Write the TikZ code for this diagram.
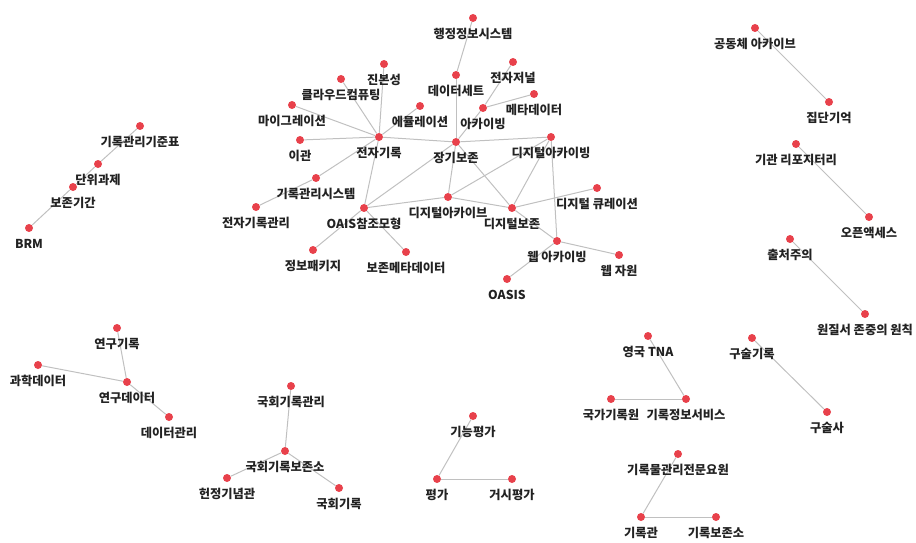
\documentclass[tikz,border=0pt]{standalone}
\usepackage{fontspec}
\setmainfont{Noto Sans CJK KR}
\usetikzlibrary{backgrounds}
\definecolor{dotred}{RGB}{232,65,75}
\definecolor{edgegray}{RGB}{192,192,192}
\definecolor{txt}{RGB}{34,34,34}
\tikzset{
  dot/.style={circle,fill=dotred,inner sep=0pt,minimum size=6pt},
  lbl/.style={font=\fontsize{9.2}{11}\selectfont\bfseries,text=txt,inner sep=0pt,
    text height=0.8em,text depth=0.1em,label distance=4.3pt},
  edge/.style={draw=edgegray,line width=0.75pt}
}
\begin{document}
\begin{tikzpicture}[x=0.75pt,y=-0.75pt]
    \useasboundingbox (0,0) rectangle (916,542);
    % main cluster
    \node[dot,label={[lbl]below:행정정보시스템}] (hangjeong) at (473,18) {};
    \node[dot,label={[lbl]below:데이터세트}] (dataset) at (456,75) {};
    \node[dot,label={[lbl]below:전자저널}] (ejournal) at (513,62) {};
    \node[dot,label={[lbl]below:메타데이터}] (metadata) at (534,94) {};
    \node[dot,label={[lbl]below:아카이빙}] (archiving) at (483,108) {};
    \node[dot,label={[lbl]below:진본성}] (authentic) at (384,64) {};
    \node[dot,label={[lbl]below:클라우드컴퓨팅}] (cloud) at (341,79) {};
    \node[dot,label={[lbl]below:마이그레이션}] (migration) at (292,105) {};
    \node[dot,label={[lbl]below:에뮬레이션}] (emulation) at (420,106) {};
    \node[dot,label={[lbl]below:이관}] (transfer) at (300,140) {};
    \node[dot,label={[lbl]below:전자기록}] (erec) at (379,137) {};
    \node[dot,label={[lbl]below:장기보존}] (ltp) at (456,142) {};
    \node[dot,label={[lbl]below:디지털아카이빙}] (digarchiving) at (551,137) {};
    \node[dot,label={[lbl]below:기록관리시스템}] (rms) at (316,178) {};
    \node[dot,label={[lbl]below:전자기록관리}] (erm) at (256,207) {};
    \node[dot,label={[lbl]below:OAIS참조모형}] (oais) at (364,208) {};
    \node[dot,label={[lbl]below:디지털아카이브}] (digarchive) at (448,197) {};
    \node[dot,label={[lbl]below:디지털보존}] (digpres) at (512,208) {};
    \node[dot,label={[lbl]below:디지털 큐레이션}] (curation) at (597,188) {};
    \node[dot,label={[lbl]below:웹 아카이빙}] (webarch) at (557,241) {};
    \node[dot,label={[lbl]below:웹 자원}] (webres) at (619,255) {};
    \node[dot,label={[lbl]below:OASIS}] (oasis) at (507,279) {};
    \node[dot,label={[lbl]below:정보패키지}] (infopkg) at (313,250) {};
    \node[dot,label={[lbl]below:보존메타데이터}] (presmeta) at (406,252) {};
    % left
    \node[dot,label={[lbl]below:기록관리기준표}] (rsched) at (140,126) {};
    \node[dot,label={[lbl]below:단위과제}] (unittask) at (98,164) {};
    \node[dot,label={[lbl]below:보존기간}] (retention) at (73,187) {};
    \node[dot,label={[lbl]below:BRM}] (brm) at (29,228) {};
    % right
    \node[dot,label={[lbl]below:공동체 아카이브}] (community) at (755,28) {};
    \node[dot,label={[lbl]below:집단기억}] (collmem) at (829,102) {};
    \node[dot,label={[lbl]below:기관 리포지터리}] (instrepo) at (796,144) {};
    \node[dot,label={[lbl]below:오픈액세스}] (openacc) at (869,217) {};
    \node[dot,label={[lbl]below:출처주의}] (provenance) at (790,239) {};
    \node[dot,label={[lbl]below:원질서 존중의 원칙}] (origorder) at (865,314) {};
    \node[dot,label={[lbl]below:구술기록}] (oralrec) at (752,338) {};
    \node[dot,label={[lbl]below:구술사}] (oralhist) at (827,412) {};
    % research data
    \node[dot,label={[lbl]below:연구기록}] (resrec) at (117,328) {};
    \node[dot,label={[lbl]below:과학데이터}] (scidata) at (38,365) {};
    \node[dot,label={[lbl]below:연구데이터}] (resdata) at (127,382) {};
    \node[dot,label={[lbl]below:데이터관리}] (datamgmt) at (169,417) {};
    % national assembly
    \node[dot,label={[lbl]below:국회기록관리}] (narm) at (291,386) {};
    \node[dot,label={[lbl]below:국회기록보존소}] (naarch) at (285,451) {};
    \node[dot,label={[lbl]below:헌정기념관}] (memhall) at (227,478) {};
    \node[dot,label={[lbl]below:국회기록}] (narec) at (339,488) {};
    % appraisal
    \node[dot,label={[lbl]below:기능평가}] (funcapp) at (473,416) {};
    \node[dot,label={[lbl]below:평가}] (appraisal) at (437,479) {};
    \node[dot,label={[lbl]below:거시평가}] (macroapp) at (512,479) {};
    % archives
    \node[dot,label={[lbl]below:영국 TNA}] (tna) at (648,336) {};
    \node[dot,label={[lbl]below:국가기록원}] (nak) at (611,399) {};
    \node[dot,label={[lbl]below:기록정보서비스}] (infoserv) at (686,399) {};
    \node[dot,label={[lbl]below:기록물관리전문요원}] (archivist) at (678,454) {};
    \node[dot,label={[lbl]below:기록관}] (recctr) at (641,517) {};
    \node[dot,label={[lbl]below:기록보존소}] (archives) at (716,517) {};

    \begin{scope}[on background layer]
    \foreach \a/\b in {hangjeong/dataset, dataset/ltp, ejournal/archiving,
        metadata/archiving, archiving/ltp, authentic/erec, cloud/erec,
        migration/erec, transfer/erec, emulation/erec, erec/ltp, erec/rms,
        erec/oais, rms/erm, ltp/digarchiving, ltp/digarchive, ltp/digpres,
        ltp/oais, oais/digarchive, oais/infopkg, oais/presmeta,
        digarchiving/digarchive, digarchiving/digpres, digarchiving/webarch,
        digarchive/digpres, digpres/curation, digpres/webarch,
        webarch/webres, webarch/oasis,
        rsched/unittask, unittask/retention, retention/brm,
        community/collmem, instrepo/openacc, provenance/origorder,
        oralrec/oralhist,
        resrec/resdata, scidata/resdata, resdata/datamgmt,
        narm/naarch, naarch/memhall, naarch/narec,
        funcapp/appraisal, appraisal/macroapp,
        tna/infoserv, nak/infoserv, archivist/recctr, recctr/archives}
      \draw[edge] (\a) -- (\b);
    \end{scope}
\end{tikzpicture}
\end{document}
